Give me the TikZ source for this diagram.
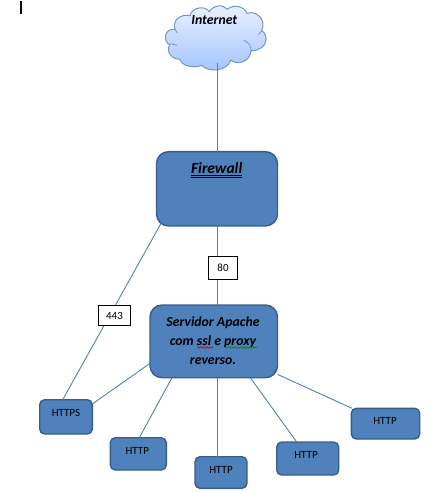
\documentclass[tikz,border=0pt]{standalone}
\usepackage{fontspec}
\setmainfont{Carlito}
\usetikzlibrary{calc,decorations.pathmorphing}
\definecolor{boxfill}{HTML}{4F81BD}
\definecolor{boxline}{HTML}{385D8A}
\definecolor{wire}{HTML}{4F82AE}
\definecolor{cloudline}{HTML}{7398C4}
\definecolor{cloudtop}{HTML}{EAF1FF}
\definecolor{cloudbot}{HTML}{A3C4FF}
\tikzset{
  box/.style={draw=boxline,fill=boxfill,line width=1.4pt,inner sep=0pt,outer sep=0pt},
  bigbox/.style={box,rounded corners=12pt},
  smallbox/.style={box,rounded corners=5pt},
  wireline/.style={draw=wire,line width=0.9pt},
  smalltxt/.style={inner sep=0pt,font=\fontsize{11}{13}\selectfont,text=black},
  bigtxt/.style={inner sep=0pt,align=center,font=\fontsize{13.8}{19}\selectfont\bfseries\itshape,text=black},
  tag/.style={draw=black,fill=white,line width=0.8pt,inner sep=0pt,outer sep=0pt,font=\fontsize{11}{13}\selectfont},
  squiggle/.style={line width=0.7pt,decorate,decoration={snake,amplitude=0.7pt,segment length=3pt}}
}
\begin{document}
\begin{tikzpicture}[x=1pt,y=-1pt]
\useasboundingbox (0,0) rectangle (439,492);
% text cursor
\fill[black] (20,1) rectangle (22,14);
% cloud
\begin{scope}[shift={(155,0)},x=0.3333pt,y=-0.3333pt]
\draw[cloudline,line width=1pt,top color=cloudtop,bottom color=cloudbot]
  (60,88) .. controls (50,65) and (75,40) .. (105,47)
  .. controls (110,22) and (150,15) .. (163,35)
  .. controls (175,15) and (205,12) .. (217,28)
  .. controls (235,12) and (268,18) .. (276,40)
  .. controls (305,30) and (335,60) .. (320,92)
  .. controls (342,105) and (340,150) .. (288,153)
  .. controls (285,190) and (240,195) .. (228,180)
  .. controls (215,215) and (160,218) .. (140,196)
  .. controls (115,206) and (80,198) .. (75,178)
  .. controls (50,178) and (32,155) .. (44,135)
  .. controls (25,125) and (25,85) .. (60,88) -- cycle;
\draw[cloudline,line width=0.8pt] (44,131) .. controls (50,133) and (58,133) .. (66,136);
\draw[cloudline,line width=0.8pt] (266,121) .. controls (280,126) and (290,138) .. (288,153);
\draw[cloudline,line width=0.8pt] (320,92) .. controls (318,97) and (314,100) .. (310,103);
\draw[cloudline,line width=0.8pt] (60,88) .. controls (61,92) and (63,96) .. (67,99);
\end{scope}
\node[bigtxt] (inet) at (214.3,20.5) {Internet};
\coordinate (cloudbase) at (217.5,63);
% boxes
\node[bigbox,minimum width=121pt,minimum height=74.3pt] (fw) at (217,188.8) {};
\node[bigbox,minimum width=127.5pt,minimum height=72.7pt] (srv) at (213.75,341.35) {};
\node[smallbox,minimum width=52.6pt,minimum height=34.3pt] (https) at (66,416.85) {};
\node[smallbox,minimum width=56pt,minimum height=32.3pt] (h1) at (138.3,453.85) {};
\node[smallbox,minimum width=52pt,minimum height=31.6pt] (h2) at (221,472.5) {};
\node[smallbox,minimum width=62pt,minimum height=33pt] (h3) at (307.7,458.5) {};
\node[smallbox,minimum width=68.4pt,minimum height=30.7pt] (h4) at (385.5,423.65) {};
% connectors
\draw[wireline] (cloudbase) -- (cloudbase |- fw.north);
\draw[wireline] (cloudbase |- fw.south) -- (cloudbase |- srv.north);
\draw[wireline] ([xshift=4.2pt,yshift=2pt]fw.south west) -- ([xshift=23pt]https.north west);
\draw[wireline] ([yshift=-22pt]srv.west) -- ([yshift=12.85pt]https.east);
\draw[wireline] ([xshift=22pt]srv.south west) -- ([xshift=1pt]h1.north);
\draw[wireline] (cloudbase |- srv.south) -- (cloudbase |- h2.north);
\draw[wireline] ([xshift=-27.2pt]srv.south east) -- ([xshift=20pt]h3.north west);
\draw[wireline] ([yshift=-33pt]srv.east) -- ([xshift=0.7pt]h4.north west);
% tags
\node[tag,minimum width=29.4pt,minimum height=23pt] (p80) at (223,267.8) {80};
\node[tag,minimum width=31.6pt,minimum height=19.6pt] (p443) at (114.5,315.5) {443};
% box texts
\node[bigtxt,font=\fontsize{15.5}{19}\selectfont\bfseries\itshape] (fwt) at (216.7,170.5) {$\underline{\underline{\hbox{Firewall}}}$};
\node[bigtxt] (srvt) at (213,340.5) {Servidor Apache\\com ssl e proxy\\reverso.};
\node[smalltxt] (httpst) at (66,412.5) {HTTPS};
\node[smalltxt] (h1t) at (137.3,450.5) {HTTP};
\node[smalltxt] (h2t) at (221,469.5) {HTTP};
\node[smalltxt] (h3t) at (306,454.5) {HTTP};
\node[smalltxt] (h4t) at (385,420.5) {HTTP};
% spell-check marks
\draw[red!85!black,squiggle] (197,347.5) -- (213,347.5);
\draw[green!55!black,squiggle] (225,347.5) -- (257,347.5);
\end{tikzpicture}
\end{document}
